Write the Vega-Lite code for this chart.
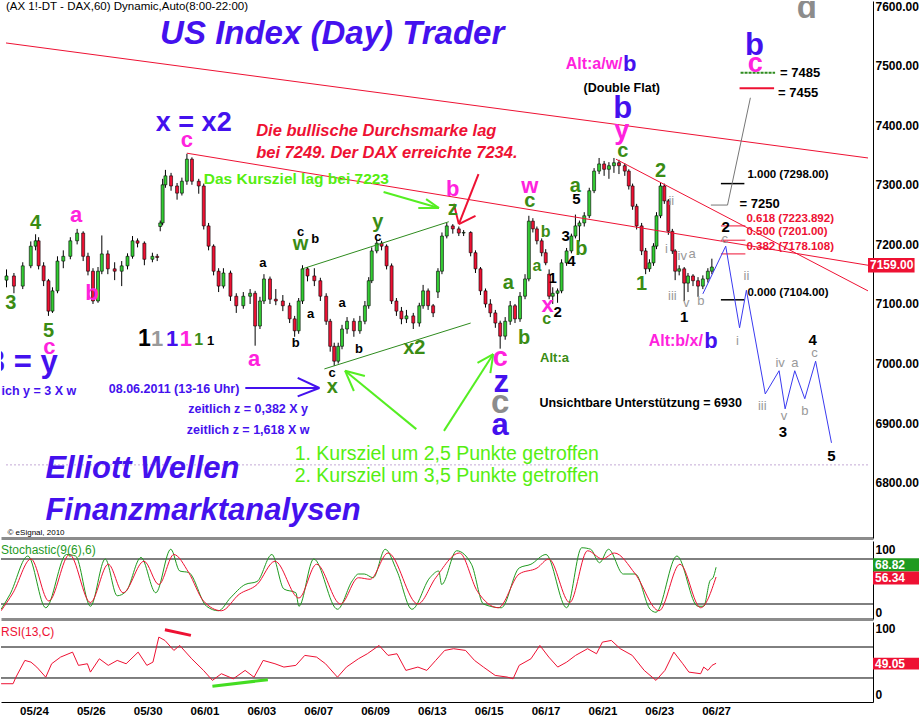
{
"$schema":"https://vega.github.io/schema/vega-lite/v6.json",
"padding":0,
"background":"white",
"spacing":3,
"config":{"view":{"stroke":null},"font":"Liberation Sans","axis":{"labelFont":"Liberation Sans","labelColor":"#000","labelFontWeight":"bold","labelFontSize":12,"grid":false,"ticks":false,"title":null}},
"datasets":{
"candles":[
{"t":-16,"o":7140,"h":7158,"l":7128,"c":7147},{"t":-12.3,"o":7147,"h":7152,"l":7118,"c":7130},{"t":-7.9,"o":7130,"h":7170,"l":7125,"c":7164},{"t":-3.9,"o":7164,"h":7205,"l":7160,"c":7197},{"t":-1.5,"o":7197,"h":7217,"l":7190,"c":7206},{"t":0,"o":7206,"h":7212,"l":7158,"c":7164},{"t":2.5,"o":7164,"h":7170,"l":7130,"c":7139},{"t":4.9,"o":7139,"h":7142,"l":7080,"c":7088},{"t":6.9,"o":7088,"h":7128,"l":7085,"c":7122},{"t":9.4,"o":7122,"h":7180,"l":7118,"c":7172},{"t":12.3,"o":7172,"h":7190,"l":7160,"c":7180},{"t":15.8,"o":7180,"h":7212,"l":7175,"c":7206},{"t":19.2,"o":7206,"h":7226,"l":7200,"c":7219},{"t":22.2,"o":7219,"h":7222,"l":7172,"c":7180},{"t":24.6,"o":7180,"h":7186,"l":7148,"c":7155},{"t":27.1,"o":7155,"h":7160,"l":7100,"c":7105},{"t":29.6,"o":7105,"h":7162,"l":7102,"c":7155},{"t":31.5,"o":7155,"h":7215,"l":7150,"c":7184},{"t":34.5,"o":7184,"h":7190,"l":7150,"c":7159},{"t":37.9,"o":7159,"h":7170,"l":7140,"c":7155},{"t":41.4,"o":7155,"h":7172,"l":7130,"c":7164},{"t":44.3,"o":7164,"h":7185,"l":7158,"c":7180},{"t":46.8,"o":7180,"h":7214,"l":7176,"c":7206},{"t":49.3,"o":7206,"h":7210,"l":7195,"c":7202},{"t":52.7,"o":7202,"h":7205,"l":7165,"c":7175},{"t":56.7,"o":7175,"h":7186,"l":7170,"c":7180},{"t":59.1,"o":7180,"h":7184,"l":7172,"c":7178},{"t":60.6,"o":7230,"h":7240,"l":7222,"c":7236},{"t":61.8,"o":7236,"h":7310,"l":7232,"c":7300},{"t":63.2,"o":7300,"h":7325,"l":7295,"c":7315},{"t":66,"o":7315,"h":7320,"l":7290,"c":7298},{"t":69,"o":7298,"h":7303,"l":7275,"c":7286},{"t":71.4,"o":7286,"h":7312,"l":7282,"c":7306},{"t":73.9,"o":7306,"h":7352,"l":7300,"c":7343},{"t":76.4,"o":7343,"h":7346,"l":7300,"c":7306},{"t":79.8,"o":7306,"h":7310,"l":7285,"c":7298},{"t":82.3,"o":7298,"h":7302,"l":7225,"c":7231},{"t":84.7,"o":7231,"h":7236,"l":7190,"c":7197},{"t":87.2,"o":7197,"h":7200,"l":7148,"c":7155},{"t":89.7,"o":7155,"h":7160,"l":7120,"c":7130},{"t":92.1,"o":7130,"h":7160,"l":7126,"c":7152},{"t":95.6,"o":7152,"h":7156,"l":7105,"c":7113},{"t":98.5,"o":7113,"h":7118,"l":7085,"c":7097},{"t":102,"o":7097,"h":7120,"l":7092,"c":7113},{"t":105.4,"o":7113,"h":7125,"l":7100,"c":7118},{"t":107.9,"o":7118,"h":7122,"l":7030,"c":7063},{"t":110.3,"o":7063,"h":7112,"l":7058,"c":7105},{"t":112.3,"o":7105,"h":7150,"l":7100,"c":7142},{"t":115.3,"o":7142,"h":7146,"l":7100,"c":7108},{"t":118.2,"o":7108,"h":7125,"l":7098,"c":7105},{"t":121.7,"o":7105,"h":7115,"l":7088,"c":7097},{"t":125.1,"o":7097,"h":7102,"l":7068,"c":7075},{"t":127.6,"o":7075,"h":7080,"l":7045,"c":7055},{"t":129.6,"o":7055,"h":7110,"l":7050,"c":7105},{"t":131.5,"o":7105,"h":7165,"l":7100,"c":7159},{"t":134,"o":7159,"h":7162,"l":7138,"c":7147},{"t":137.4,"o":7147,"h":7160,"l":7130,"c":7139},{"t":140.4,"o":7139,"h":7144,"l":7105,"c":7113},{"t":143.3,"o":7113,"h":7118,"l":7065,"c":7071},{"t":145.3,"o":7071,"h":7075,"l":7020,"c":7029},{"t":147.3,"o":7029,"h":7035,"l":6996,"c":7004},{"t":149.3,"o":7004,"h":7035,"l":7000,"c":7029},{"t":151.2,"o":7029,"h":7065,"l":7024,"c":7058},{"t":153.7,"o":7058,"h":7078,"l":7050,"c":7071},{"t":157.1,"o":7071,"h":7076,"l":7045,"c":7055},{"t":160.1,"o":7055,"h":7080,"l":7050,"c":7071},{"t":162.6,"o":7071,"h":7105,"l":7066,"c":7097},{"t":164.5,"o":7097,"h":7145,"l":7092,"c":7139},{"t":166,"o":7139,"h":7195,"l":7135,"c":7189},{"t":168.5,"o":7189,"h":7208,"l":7185,"c":7202},{"t":170.9,"o":7202,"h":7206,"l":7190,"c":7197},{"t":173.4,"o":7197,"h":7200,"l":7158,"c":7164},{"t":175.9,"o":7164,"h":7168,"l":7100,"c":7105},{"t":178.3,"o":7105,"h":7110,"l":7080,"c":7088},{"t":180.8,"o":7088,"h":7095,"l":7066,"c":7075},{"t":183.3,"o":7075,"h":7090,"l":7068,"c":7080},{"t":186.7,"o":7080,"h":7085,"l":7058,"c":7068},{"t":189.7,"o":7068,"h":7102,"l":7062,"c":7097},{"t":191.6,"o":7097,"h":7132,"l":7092,"c":7122},{"t":194.1,"o":7122,"h":7126,"l":7090,"c":7097},{"t":196.6,"o":7097,"h":7100,"l":7078,"c":7085},{"t":199,"o":7120,"h":7160,"l":7110,"c":7155},{"t":201,"o":7155,"h":7220,"l":7150,"c":7214},{"t":203.4,"o":7214,"h":7236,"l":7210,"c":7231},{"t":206.4,"o":7231,"h":7234,"l":7218,"c":7226},{"t":209.4,"o":7226,"h":7230,"l":7214,"c":7219},{"t":211.8,"o":7219,"h":7224,"l":7214,"c":7220},{"t":215.3,"o":7220,"h":7222,"l":7180,"c":7186},{"t":217.7,"o":7186,"h":7190,"l":7152,"c":7159},{"t":220.2,"o":7159,"h":7162,"l":7115,"c":7122},{"t":222.7,"o":7122,"h":7126,"l":7094,"c":7100},{"t":225.1,"o":7100,"h":7108,"l":7078,"c":7085},{"t":227.6,"o":7085,"h":7090,"l":7060,"c":7068},{"t":230,"o":7068,"h":7072,"l":7025,"c":7046},{"t":232.5,"o":7046,"h":7078,"l":7040,"c":7071},{"t":235,"o":7071,"h":7105,"l":7065,"c":7097},{"t":237.4,"o":7097,"h":7100,"l":7068,"c":7075},{"t":239.9,"o":7075,"h":7120,"l":7070,"c":7113},{"t":242.4,"o":7113,"h":7150,"l":7108,"c":7142},{"t":244.3,"o":7142,"h":7248,"l":7138,"c":7239},{"t":246.3,"o":7239,"h":7244,"l":7220,"c":7226},{"t":248.3,"o":7226,"h":7230,"l":7200,"c":7206},{"t":250.7,"o":7206,"h":7210,"l":7180,"c":7186},{"t":252.7,"o":7186,"h":7192,"l":7165,"c":7169},{"t":254.4,"o":7150,"h":7158,"l":7108,"c":7113},{"t":256.2,"o":7113,"h":7128,"l":7100,"c":7118},{"t":258.6,"o":7118,"h":7126,"l":7102,"c":7122},{"t":260.6,"o":7122,"h":7175,"l":7118,"c":7169},{"t":263.1,"o":7169,"h":7194,"l":7164,"c":7189},{"t":265.5,"o":7189,"h":7218,"l":7185,"c":7214},{"t":267.5,"o":7214,"h":7250,"l":7210,"c":7231},{"t":269.5,"o":7231,"h":7240,"l":7205,"c":7236},{"t":271.9,"o":7236,"h":7254,"l":7230,"c":7248},{"t":274.4,"o":7248,"h":7295,"l":7244,"c":7290},{"t":276.8,"o":7290,"h":7328,"l":7286,"c":7323},{"t":279.3,"o":7323,"h":7345,"l":7318,"c":7335},{"t":281.8,"o":7335,"h":7340,"l":7315,"c":7326},{"t":284.2,"o":7326,"h":7338,"l":7310,"c":7332},{"t":286.7,"o":7332,"h":7345,"l":7320,"c":7337},{"t":289.2,"o":7337,"h":7342,"l":7318,"c":7332},{"t":292.1,"o":7332,"h":7336,"l":7315,"c":7323},{"t":294.1,"o":7323,"h":7326,"l":7292,"c":7298},{"t":296,"o":7298,"h":7302,"l":7258,"c":7264},{"t":298,"o":7264,"h":7268,"l":7225,"c":7231},{"t":300.5,"o":7231,"h":7236,"l":7182,"c":7189},{"t":302.5,"o":7189,"h":7194,"l":7150,"c":7159},{"t":304.4,"o":7159,"h":7175,"l":7154,"c":7169},{"t":306.4,"o":7169,"h":7202,"l":7164,"c":7197},{"t":307.9,"o":7197,"h":7254,"l":7192,"c":7248},{"t":309.9,"o":7248,"h":7303,"l":7244,"c":7298},{"t":311.8,"o":7298,"h":7302,"l":7268,"c":7273},{"t":313.8,"o":7273,"h":7276,"l":7216,"c":7222},{"t":315.8,"o":7222,"h":7226,"l":7184,"c":7189},{"t":317.2,"o":7189,"h":7192,"l":7140,"c":7155},{"t":319.2,"o":7155,"h":7165,"l":7148,"c":7159},{"t":321.7,"o":7159,"h":7162,"l":7105,"c":7135},{"t":323.6,"o":7135,"h":7152,"l":7120,"c":7147},{"t":326.1,"o":7147,"h":7150,"l":7130,"c":7139},{"t":328.6,"o":7139,"h":7145,"l":7112,"c":7130},{"t":331,"o":7130,"h":7148,"l":7125,"c":7142},{"t":333.5,"o":7142,"h":7160,"l":7136,"c":7155},{"t":335.5,"o":7155,"h":7176,"l":7150,"c":7162}
],
"seg_dot":[{"t":-16.25,"p":6830,"t2":413.3,"p2":6830}],
"seg_red1":[{"t":-16.25,"p":7538,"t2":413.3,"p2":7345},{"t":73.9,"p":7353,"t2":413.3,"p2":7165},{"t":287.7,"p":7343,"t2":413.3,"p2":7122},{"t":340,"p":7231,"t2":352.2,"p2":7231},{"t":340,"p":7207,"t2":352.2,"p2":7207},{"t":340,"p":7184,"t2":352.2,"p2":7184}],
"seg_red2":[{"t":349.3,"p":7462,"t2":366.5,"p2":7462},{"t":219.2,"p":7318,"t2":209.4,"p2":7234},{"t":209.4,"p":7234,"t2":206.9,"p2":7268},{"t":209.4,"p":7234,"t2":217.7,"p2":7248}],
"seg_chan":[{"t":131.5,"p":7159,"t2":204.4,"p2":7238},{"t":142.4,"p":6991,"t2":215.3,"p2":7068}],
"seg_lime":[{"t":171.9,"p":7288,"t2":199.5,"p2":7261},{"t":199.5,"p":7261,"t2":189.2,"p2":7261},{"t":199.5,"p":7261,"t2":193.1,"p2":7276},{"t":188.2,"p":6890,"t2":152.7,"p2":6988},{"t":152.7,"p":6988,"t2":162.6,"p2":6979},{"t":152.7,"p":6988,"t2":157.1,"p2":6954},{"t":202,"p":6887,"t2":226.6,"p2":7016},{"t":226.6,"p":7016,"t2":218.7,"p2":7001},{"t":226.6,"p":7016,"t2":225.1,"p2":6984}],
"seg_blue":[{"t":103,"p":6959,"t2":139.9,"p2":6959},{"t":139.9,"p":6959,"t2":129.1,"p2":6976},{"t":139.9,"p":6959,"t2":129.1,"p2":6945}],
"seg_black":[{"t":340,"p":7302,"t2":351.7,"p2":7302},{"t":340,"p":7107,"t2":351.7,"p2":7107}],
"seg_gray":[{"t":335,"p":7266,"t2":343.3,"p2":7266},{"t":343.3,"p":7266,"t2":354.7,"p2":7446}],
"seg_g7485":[{"t":349.8,"p":7488,"t2":367,"p2":7488}],
"path_blue":[{"i":1,"t":331,"p":7117},{"i":2,"t":342.4,"p":7197},{"i":3,"t":349.3,"p":7060},{"i":4,"t":352.7,"p":7123},{"i":5,"t":362.1,"p":6949},{"i":6,"t":369,"p":6988},{"i":7,"t":372,"p":6924},{"i":8,"t":376.8,"p":6988},{"i":9,"t":381.8,"p":6941},{"i":10,"t":387.2,"p":7004},{"i":11,"t":395.1,"p":6867}],
"tx_header":[{"t":-16.25,"p":7598,"s":"(AX 1!-DT - DAX,60) Dynamic,Auto(8:00-22:00)"}],
"tx_copy":[{"t":-15.5,"p":6716,"s":"© eSignal, 2010"}],
"tx_title":[{"t":146.3,"p":7553,"s":"US Index (Day) Trader"}],
"tx_brand":[{"t":3.4,"p":6823,"s":"Elliott Wellen"},{"t":3.4,"p":6753,"s":"Finanzmarktanalysen"}],
"tx_red":[{"t":108.4,"p":7390,"s":"Die bullische Durchsmarke lag"},{"t":108.4,"p":7353,"s":"bei 7249. Der DAX erreichte 7234."}],
"tx_green":[{"t":82.3,"p":7310,"s":"Das Kursziel lag bei 7223"}],
"tx_hit":[{"t":127.6,"p":6848,"s":"1. Kursziel um 2,5 Punkte getroffen"},{"t":127.6,"p":6811,"s":"2. Kursziel um 3,5 Punkte getroffen"}],
"tx_blue":[{"t":67.5,"p":6957,"s":"08.06.2011 (13-16 Uhr)"},{"t":104.4,"p":6924,"s":"zeitlich z = 0,382 X y"},{"t":104.4,"p":6888,"s":"zeitlich z = 1,618 X w"},{"t":-5.9,"p":6954,"s":"zeitlich y = 3 X w"}],
"tx_black13":[{"t":300,"p":6934,"s":"Unsichtbare Unterstützung = 6930"},{"t":290.6,"p":7462,"s":"(Double Flat)"}],
"tx_fibk":[{"t":353.2,"p":7316,"s":"1.000 (7298.00)"},{"t":353.2,"p":7118,"s":"0.000 (7104.00)"}],
"tx_fibr":[{"t":352.7,"p":7243,"s":"0.618 (7223.892)"},{"t":352.7,"p":7221,"s":"0.500 (7201.00)"},{"t":352.7,"p":7196,"s":"0.382 (7178.108)"}],
"tx_eq":[{"t":369.5,"p":7488,"s":"= 7485"},{"t":368.5,"p":7454,"s":"= 7455"},{"t":349.3,"p":7268,"s":"= 7250"}],
"tx_mag22":[{"t":73.9,"p":7375,"s":"c"},{"t":18.7,"p":7249,"s":"a"},{"t":26.6,"p":7118,"s":"b"},{"t":5.4,"p":7028,"s":"c"},{"t":107.4,"p":7008,"s":"a"},{"t":206.4,"p":7293,"s":"b"},{"t":244.8,"p":7298,"s":"w"},{"t":253.7,"p":7098,"s":"x"},{"t":73.4,"p":7041,"s":"1"}],
"tx_mag27":[{"t":290.6,"p":7390,"s":"y"},{"t":230,"p":7009,"s":"c"},{"t":357.1,"p":7503,"s":"c"}],
"tx_magAlt":[{"t":276.8,"p":7503,"s":"Alt:a/w/"},{"t":317.5,"p":7038,"s":"Alt:b/x/"}],
"tx_blue30":[{"t":230.5,"p":6967,"s":"z"},{"t":230,"p":6895,"s":"a"},{"t":291.1,"p":7427,"s":"b"},{"t":356.7,"p":7533,"s":"b"},{"t":-7.9,"p":7001,"s":"3 = y"}],
"tx_blue27":[{"t":77.3,"p":7404,"s":"x = x2"}],
"tx_blue21":[{"t":66.5,"p":7041,"s":"1"},{"t":294.6,"p":7503,"s":"b"},{"t":335,"p":7038,"s":"b"}],
"tx_green20":[{"t":-1.5,"p":7236,"s":"4"},{"t":-13.8,"p":7102,"s":"3"},{"t":4.9,"p":7055,"s":"5"},{"t":130.5,"p":7201,"s":"w"},{"t":169,"p":7238,"s":"y"},{"t":206.4,"p":7259,"s":"z"},{"t":146.3,"p":6961,"s":"x"},{"t":187.2,"p":7026,"s":"x2"},{"t":244.8,"p":7273,"s":"c"},{"t":234,"p":7135,"s":"a"},{"t":241.9,"p":7043,"s":"b"},{"t":267.5,"p":7298,"s":"a"},{"t":270.4,"p":7192,"s":"b"},{"t":291.1,"p":7357,"s":"c"},{"t":309.9,"p":7323,"s":"2"},{"t":300.5,"p":7134,"s":"1"}],
"tx_green16":[{"t":248.3,"p":7164,"s":"a"},{"t":252.7,"p":7221,"s":"b"},{"t":253.2,"p":7075,"s":"c"},{"t":79.8,"p":7040,"s":"1"}],
"tx_greenAlt":[{"t":257.1,"p":7009,"s":"Alt:a"}],
"tx_k13":[{"t":111.8,"p":7169,"s":"a"},{"t":130.5,"p":7221,"s":"c"},{"t":137.9,"p":7209,"s":"b"},{"t":135.5,"p":7083,"s":"a"},{"t":151.2,"p":7102,"s":"a"},{"t":128.1,"p":7035,"s":"b"},{"t":159.6,"p":7024,"s":"b"},{"t":146.3,"p":6984,"s":"c"},{"t":169,"p":7212,"s":"c"},{"t":85.7,"p":7038,"s":"1"}],
"tx_k15":[{"t":268,"p":7276,"s":"5"},{"t":262.6,"p":7214,"s":"3"},{"t":265.5,"p":7172,"s":"4"},{"t":256.2,"p":7144,"s":"1"},{"t":258.6,"p":7087,"s":"2"},{"t":321.7,"p":7078,"s":"1"},{"t":342.4,"p":7229,"s":"2"},{"t":385.7,"p":7040,"s":"4"},{"t":370.9,"p":6885,"s":"3"},{"t":395.1,"p":6845,"s":"5"}],
"tx_k23":[{"t":52.7,"p":7041,"s":"1"}],
"tx_gray":[{"t":315.3,"p":7273,"s":"ii"},{"t":312.8,"p":7192,"s":"i"},{"t":320.7,"p":7180,"s":"iv"},{"t":325.6,"p":7184,"s":"a"},{"t":315.8,"p":7113,"s":"iii"},{"t":322.7,"p":7102,"s":"v"},{"t":330,"p":7105,"s":"b"},{"t":341.9,"p":7209,"s":"c"},{"t":348.3,"p":7038,"s":"i"},{"t":352.7,"p":7147,"s":"ii"},{"t":360.6,"p":6929,"s":"iii"},{"t":369.5,"p":7001,"s":"iv"},{"t":371.4,"p":6912,"s":"v"},{"t":376.8,"p":7001,"s":"a"},{"t":381.8,"p":6920,"s":"b"},{"t":386.7,"p":7018,"s":"c"}],
"tx_gray22":[{"t":59.1,"p":7041,"s":"1"}],
"tx_grayBig":[{"t":230,"p":6933,"s":"c"},{"t":382.8,"p":7597,"s":"d"}],
"box_main":[{"t":413.3,"t2":436.5,"p":7153,"p2":7177,"pm":7165,"s":"7159.00"}],
"stoch":[
{"s":"K","t":-16.2,"v":13},{"s":"K","t":-11.8,"v":33},{"s":"K","t":-3,"v":84},{"s":"K","t":5.8,"v":15},{"s":"K","t":16,"v":86},{"s":"K","t":20.5,"v":84},{"s":"K","t":27.8,"v":17},{"s":"K","t":35.1,"v":80},{"s":"K","t":41,"v":31},{"s":"K","t":45.4,"v":37},{"s":"K","t":52.7,"v":82},{"s":"K","t":60,"v":35},{"s":"K","t":67.4,"v":93},{"s":"K","t":71.8,"v":64},{"s":"K","t":76.2,"v":62},{"s":"K","t":85,"v":17},{"s":"K","t":90.9,"v":11},{"s":"K","t":96.7,"v":28},{"s":"K","t":104,"v":46},{"s":"K","t":109.9,"v":50},{"s":"K","t":117.2,"v":86},{"s":"K","t":123.1,"v":40},{"s":"K","t":129,"v":35},{"s":"K","t":130.5,"v":17},{"s":"K","t":137.8,"v":80},{"s":"K","t":149.5,"v":13},{"s":"K","t":156.8,"v":51},{"s":"K","t":159.8,"v":60},{"s":"K","t":162.7,"v":60},{"s":"K","t":167.1,"v":55},{"s":"K","t":173,"v":93},{"s":"K","t":178.8,"v":64},{"s":"K","t":186.2,"v":13},{"s":"K","t":195,"v":55},{"s":"K","t":199.4,"v":64},{"s":"K","t":200.8,"v":46},{"s":"K","t":208.2,"v":91},{"s":"K","t":215.5,"v":73},{"s":"K","t":221.4,"v":20},{"s":"K","t":230.2,"v":15},{"s":"K","t":239,"v":68},{"s":"K","t":244.8,"v":73},{"s":"K","t":252.2,"v":86},{"s":"K","t":262.4,"v":15},{"s":"K","t":269.8,"v":95},{"s":"K","t":274.2,"v":93},{"s":"K","t":278.6,"v":75},{"s":"K","t":283,"v":93},{"s":"K","t":290.3,"v":60},{"s":"K","t":296.2,"v":60},{"s":"K","t":303.5,"v":13},{"s":"K","t":306.4,"v":9},{"s":"K","t":316.7,"v":84},{"s":"K","t":327,"v":17},{"s":"K","t":329.9,"v":17},{"s":"K","t":333,"v":51},{"s":"K","t":334.5,"v":55},{"s":"K","t":336,"v":69},
{"s":"D","t":-16.2,"v":11},{"s":"D","t":-10.3,"v":35},{"s":"D","t":-1.5,"v":80},{"s":"D","t":7.3,"v":24},{"s":"D","t":17.5,"v":86},{"s":"D","t":27.8,"v":22},{"s":"D","t":36.6,"v":73},{"s":"D","t":43.9,"v":35},{"s":"D","t":54.2,"v":77},{"s":"D","t":61.5,"v":46},{"s":"D","t":68.9,"v":86},{"s":"D","t":76.2,"v":62},{"s":"D","t":83.5,"v":24},{"s":"D","t":92.3,"v":11},{"s":"D","t":101.1,"v":33},{"s":"D","t":109.9,"v":46},{"s":"D","t":118.7,"v":77},{"s":"D","t":130.5,"v":28},{"s":"D","t":139.2,"v":73},{"s":"D","t":151,"v":20},{"s":"D","t":159.8,"v":55},{"s":"D","t":165.6,"v":53},{"s":"D","t":174.4,"v":88},{"s":"D","t":189.1,"v":20},{"s":"D","t":197.9,"v":55},{"s":"D","t":209.6,"v":88},{"s":"D","t":218.4,"v":37},{"s":"D","t":228.7,"v":15},{"s":"D","t":239,"v":60},{"s":"D","t":247.8,"v":68},{"s":"D","t":253.6,"v":80},{"s":"D","t":263.9,"v":22},{"s":"D","t":272.7,"v":91},{"s":"D","t":280,"v":80},{"s":"D","t":285.9,"v":88},{"s":"D","t":296.2,"v":60},{"s":"D","t":307.9,"v":11},{"s":"D","t":318.2,"v":73},{"s":"D","t":328.4,"v":15},{"s":"D","t":336,"v":56}
],
"stoch_lv":[{"t":-16.25,"t2":413.3,"v":80},{"t":-16.25,"t2":413.3,"v":20}],
"stoch_lbl":[{"t":-16.25,"v":92,"s":"Stochastic(9(6),6)"}],
"stoch_boxK":[{"t":413.3,"t2":436.5,"v":63.5,"v2":81,"vm":72.5,"s":"68.82"}],
"stoch_boxD":[{"t":413.3,"t2":436.5,"v":46,"v2":63.5,"vm":54.8,"s":"56.34"}],
"rsi":[{"t":-16.2,"v":22.6},{"t":-10.3,"v":22.6},{"t":-8.9,"v":31},{"t":-4.5,"v":52.7},{"t":-1.5,"v":50.5},{"t":1.4,"v":44},{"t":5.8,"v":31},{"t":8.7,"v":48.4},{"t":13.1,"v":57},{"t":19,"v":63.4},{"t":21.9,"v":46.3},{"t":26.3,"v":48.4},{"t":27.8,"v":37.6},{"t":32.2,"v":54.8},{"t":36.6,"v":46.3},{"t":41,"v":52.7},{"t":45.4,"v":48.4},{"t":51.3,"v":63.4},{"t":55.6,"v":46.3},{"t":58.6,"v":50.5},{"t":61.5,"v":82.8},{"t":64.5,"v":78.5},{"t":67.4,"v":70},{"t":68.9,"v":65.6},{"t":71.8,"v":72},{"t":77.7,"v":54.8},{"t":83.5,"v":39.8},{"t":87.9,"v":26.9},{"t":92.3,"v":35.5},{"t":98.2,"v":29},{"t":104,"v":39.8},{"t":108.4,"v":31},{"t":112.9,"v":52.7},{"t":118.7,"v":48.4},{"t":123.1,"v":44.1},{"t":129,"v":46.3},{"t":133.4,"v":59.2},{"t":139.2,"v":57},{"t":143.6,"v":48.4},{"t":149.5,"v":31},{"t":153.9,"v":44.1},{"t":159.8,"v":54.8},{"t":164.2,"v":61.3},{"t":170,"v":72},{"t":174.4,"v":59.2},{"t":178.8,"v":61.3},{"t":183.2,"v":39.8},{"t":189.1,"v":44.1},{"t":193.5,"v":39.8},{"t":197.9,"v":52.7},{"t":202.3,"v":65.6},{"t":206.7,"v":67.8},{"t":212.6,"v":65.6},{"t":217,"v":52.7},{"t":221.4,"v":44.1},{"t":227.2,"v":33.3},{"t":233.1,"v":31.2},{"t":236,"v":29},{"t":239,"v":46.3},{"t":244.8,"v":54.8},{"t":249.2,"v":72},{"t":253.6,"v":57},{"t":258,"v":44.1},{"t":262.4,"v":50.5},{"t":266.8,"v":59.2},{"t":272.7,"v":67.8},{"t":277.1,"v":61.3},{"t":280,"v":76.3},{"t":284.4,"v":78.5},{"t":288.8,"v":67.8},{"t":294.7,"v":59.2},{"t":300.6,"v":39.8},{"t":306.4,"v":26.9},{"t":310.8,"v":39.8},{"t":315.2,"v":63.4},{"t":319.6,"v":48.4},{"t":322.6,"v":37.6},{"t":328.4,"v":35.5},{"t":329.9,"v":44.1},{"t":332,"v":39.8},{"t":334,"v":46.3},{"t":336,"v":49}],
"rsi_lv":[{"t":-16.25,"t2":413.3,"v":70},{"t":-16.25,"t2":413.3,"v":30}],
"rsi_lbl":[{"t":-16.25,"v":90,"s":"RSI(13,C)"}],
"rsi_divR":[{"t":64.5,"t2":77.3,"v":92.3,"v2":85}],
"rsi_divG":[{"t":87.9,"t2":115.2,"v":19.2,"v2":27.8}],
"rsi_box":[{"t":413.3,"t2":436.5,"v":41,"v2":56,"vm":48.5,"s":"49.05"}]
},
"vconcat":[
{
"width":872,"height":537,
"encoding":{"x":{"field":"t","type":"quantitative","scale":{"domain":[-16.25,413.3],"nice":false,"zero":false},"axis":{"title":null,"labels":false,"ticks":false,"grid":false,"domainColor":"#8c8c8c","domainWidth":3}}},
"layer":[
{"data":{"name":"seg_dot"},"mark":{"type":"rule","color":"#c4a9d6","strokeDash":[2,2]},"encoding":{"x2":{"field":"t2"},"y":{"field":"p","type":"quantitative","scale":{"domain":[6707.3,7608.4],"nice":false,"zero":false},"axis":{"orient":"right","title":null,"values":[6800,6900,7000,7100,7200,7300,7400,7500,7600],"format":".2f","ticks":false,"grid":false,"domainColor":"#000","labelPadding":2}},"y2":{"field":"p2"}}},
{"data":{"name":"candles"},"mark":{"type":"rule","color":"#000","clip":true},"encoding":{"y":{"field":"l","type":"quantitative"},"y2":{"field":"h"}}},
{"data":{"name":"candles"},"mark":{"type":"bar","size":3,"stroke":"#000","strokeWidth":0.6,"clip":true},"encoding":{"y":{"field":"o","type":"quantitative"},"y2":{"field":"c"},"color":{"condition":{"test":"datum.c >= datum.o","value":"#33cc33"},"value":"#ee1133"}}},
{"encoding":{"x2":{"field":"t2"},"y":{"field":"p","type":"quantitative"},"y2":{"field":"p2"}},
"layer":[
{"data":{"name":"seg_red1"},"mark":{"type":"rule","color":"#ee1133","strokeWidth":1,"clip":true}},
{"data":{"name":"seg_red2"},"mark":{"type":"rule","color":"#ee1133","strokeWidth":2}},
{"data":{"name":"seg_chan"},"mark":{"type":"rule","color":"#2e8b1e","strokeWidth":1}},
{"data":{"name":"seg_lime"},"mark":{"type":"rule","color":"#55ee22","strokeWidth":2}},
{"data":{"name":"seg_blue"},"mark":{"type":"rule","color":"#4411ee","strokeWidth":2}},
{"data":{"name":"seg_black"},"mark":{"type":"rule","color":"#000","strokeWidth":1.5}},
{"data":{"name":"seg_gray"},"mark":{"type":"rule","color":"#777","strokeWidth":1}},
{"data":{"name":"seg_g7485"},"mark":{"type":"rule","color":"#2e8b1e","strokeWidth":2,"strokeDash":[3,1]}}
]},
{"data":{"name":"path_blue"},"mark":{"type":"line","color":"#3a3af0","strokeWidth":1},"encoding":{"y":{"field":"p","type":"quantitative"},"order":{"field":"i","type":"quantitative"}}},
{"encoding":{"y":{"field":"p","type":"quantitative"},"text":{"field":"s","type":"nominal"}},
"layer":[
{"data":{"name":"tx_header"},"mark":{"type":"text","fontSize":11.5,"align":"left","color":"#000","clip":true}},
{"data":{"name":"tx_copy"},"mark":{"type":"text","fontSize":8,"align":"left","color":"#000","clip":true}},
{"data":{"name":"tx_title"},"mark":{"type":"text","fontSize":33,"fontWeight":"bold","fontStyle":"italic","color":"#4411ee"}},
{"data":{"name":"tx_brand"},"mark":{"type":"text","fontSize":31,"fontWeight":"bold","fontStyle":"italic","align":"left","color":"#4411ee"}},
{"data":{"name":"tx_red"},"mark":{"type":"text","fontSize":16.5,"fontWeight":"bold","fontStyle":"italic","align":"left","color":"#ee1133"}},
{"data":{"name":"tx_green"},"mark":{"type":"text","fontSize":15.5,"fontWeight":"bold","align":"left","color":"#55ee11"}},
{"data":{"name":"tx_hit"},"mark":{"type":"text","fontSize":19.5,"align":"left","color":"#55ee11"}},
{"data":{"name":"tx_blue"},"mark":{"type":"text","fontSize":12.5,"fontWeight":"bold","color":"#4411ee","clip":true}},
{"data":{"name":"tx_black13"},"mark":{"type":"text","fontSize":12.5,"fontWeight":"bold","color":"#000"}},
{"data":{"name":"tx_fibk"},"mark":{"type":"text","fontSize":11.5,"fontWeight":"bold","align":"left","color":"#000"}},
{"data":{"name":"tx_fibr"},"mark":{"type":"text","fontSize":11.5,"fontWeight":"bold","align":"left","color":"#ee1133"}},
{"data":{"name":"tx_eq"},"mark":{"type":"text","fontSize":13,"fontWeight":"bold","align":"left","color":"#000"}},
{"data":{"name":"tx_mag22"},"mark":{"type":"text","fontSize":22,"fontWeight":"bold","color":"#ff22dd"}},
{"data":{"name":"tx_mag27"},"mark":{"type":"text","fontSize":27,"fontWeight":"bold","color":"#ff22dd"}},
{"data":{"name":"tx_magAlt"},"mark":{"type":"text","fontSize":16,"fontWeight":"bold","color":"#ff22dd"}},
{"data":{"name":"tx_blue30"},"mark":{"type":"text","fontSize":31,"fontWeight":"bold","color":"#4411ee","clip":true}},
{"data":{"name":"tx_blue27"},"mark":{"type":"text","fontSize":27,"fontWeight":"bold","color":"#4411ee"}},
{"data":{"name":"tx_blue21"},"mark":{"type":"text","fontSize":22,"fontWeight":"bold","color":"#4411ee"}},
{"data":{"name":"tx_green20"},"mark":{"type":"text","fontSize":20,"fontWeight":"bold","color":"#3a8c14","clip":true}},
{"data":{"name":"tx_green16"},"mark":{"type":"text","fontSize":16,"fontWeight":"bold","color":"#3a8c14"}},
{"data":{"name":"tx_greenAlt"},"mark":{"type":"text","fontSize":13,"fontWeight":"bold","color":"#3a8c14"}},
{"data":{"name":"tx_k13"},"mark":{"type":"text","fontSize":13,"fontWeight":"bold","color":"#000"}},
{"data":{"name":"tx_k15"},"mark":{"type":"text","fontSize":15,"fontWeight":"bold","color":"#000"}},
{"data":{"name":"tx_k23"},"mark":{"type":"text","fontSize":23,"fontWeight":"bold","color":"#000"}},
{"data":{"name":"tx_gray"},"mark":{"type":"text","fontSize":13,"color":"#999999"}},
{"data":{"name":"tx_gray22"},"mark":{"type":"text","fontSize":22,"fontWeight":"bold","color":"#999999"}},
{"data":{"name":"tx_grayBig"},"mark":{"type":"text","fontSize":33,"fontWeight":"bold","color":"#8c8c8c","clip":true}}
]},
{"data":{"name":"box_main"},"mark":{"type":"rect","color":"#ee1133"},"encoding":{"x2":{"field":"t2"},"y":{"field":"p","type":"quantitative"},"y2":{"field":"p2"}}},
{"data":{"name":"box_main"},"mark":{"type":"text","color":"white","fontWeight":"bold","fontSize":12,"align":"left","dx":2},"encoding":{"y":{"field":"pm","type":"quantitative"},"text":{"field":"s","type":"nominal"}}}
]
},
{
"width":872,"height":78,
"encoding":{"x":{"field":"t","type":"quantitative","scale":{"domain":[-16.25,413.3],"nice":false,"zero":false},"axis":{"title":null,"labels":false,"ticks":false,"grid":false,"domainColor":"#8c8c8c","domainWidth":3}}},
"layer":[
{"data":{"name":"stoch_lv"},"mark":{"type":"rule","color":"#000","strokeWidth":1},"encoding":{"x2":{"field":"t2"},"y":{"field":"v","type":"quantitative","scale":{"domain":[0,104],"nice":false,"zero":false},"axis":{"orient":"right","title":null,"values":[0,50,100],"format":"d","ticks":false,"grid":false,"domainColor":"#000","labelPadding":2,"labelFlush":5}}}},
{"data":{"name":"stoch"},"mark":{"type":"line","strokeWidth":1,"clip":true,"interpolate":"monotone"},"encoding":{"y":{"field":"v","type":"quantitative"},"color":{"field":"s","type":"nominal","scale":{"domain":["K","D"],"range":["#1f9a1f","#ee1133"]},"legend":null}}},
{"data":{"name":"stoch_lbl"},"mark":{"type":"text","fontSize":12,"align":"left","color":"#1f9a1f"},"encoding":{"y":{"field":"v","type":"quantitative"},"text":{"field":"s","type":"nominal"}}},
{"data":{"name":"stoch_boxK"},"mark":{"type":"rect","color":"#1f9a1f"},"encoding":{"x2":{"field":"t2"},"y":{"field":"v","type":"quantitative"},"y2":{"field":"v2"}}},
{"data":{"name":"stoch_boxD"},"mark":{"type":"rect","color":"#ee1133"},"encoding":{"x2":{"field":"t2"},"y":{"field":"v","type":"quantitative"},"y2":{"field":"v2"}}},
{"data":{"name":"stoch_boxK"},"mark":{"type":"text","color":"white","fontWeight":"bold","fontSize":12,"align":"left","dx":2},"encoding":{"y":{"field":"vm","type":"quantitative"},"text":{"field":"s","type":"nominal"}}},
{"data":{"name":"stoch_boxD"},"mark":{"type":"text","color":"white","fontWeight":"bold","fontSize":12,"align":"left","dx":2},"encoding":{"y":{"field":"vm","type":"quantitative"},"text":{"field":"s","type":"nominal"}}}
]
},
{
"width":872,"height":80,
"encoding":{"x":{"field":"t","type":"quantitative","scale":{"domain":[-16.25,413.3],"nice":false,"zero":false},"axis":{"title":null,"values":[0,28,56,84,112,140,168,196,224,252,280,308,336],"labelExpr":"['05/24','05/26','05/30','06/01','06/03','06/07','06/09','06/13','06/15','06/17','06/21','06/23','06/27'][round(datum.value/28)]","labelFlush":false,"labelFontSize":11.5,"labelPadding":3,"ticks":false,"grid":false,"domainColor":"#000","domainWidth":1}}},
"layer":[
{"data":{"name":"rsi_lv"},"mark":{"type":"rule","color":"#000","strokeWidth":1},"encoding":{"x2":{"field":"t2"},"y":{"field":"v","type":"quantitative","scale":{"domain":[-1,102.3],"nice":false,"zero":false},"axis":{"orient":"right","title":null,"values":[0,50,100],"format":"d","ticks":false,"grid":false,"domainColor":"#000","labelPadding":2,"labelFlush":5}}}},
{"data":{"name":"rsi"},"mark":{"type":"line","strokeWidth":1,"color":"#ee1133","clip":true},"encoding":{"y":{"field":"v","type":"quantitative"}}},
{"data":{"name":"rsi_divR"},"mark":{"type":"rule","strokeWidth":3,"color":"#ee1133"},"encoding":{"x2":{"field":"t2"},"y":{"field":"v","type":"quantitative"},"y2":{"field":"v2"}}},
{"data":{"name":"rsi_divG"},"mark":{"type":"rule","strokeWidth":3,"color":"#44dd22"},"encoding":{"x2":{"field":"t2"},"y":{"field":"v","type":"quantitative"},"y2":{"field":"v2"}}},
{"data":{"name":"rsi_lbl"},"mark":{"type":"text","fontSize":12,"align":"left","color":"#ee1133"},"encoding":{"y":{"field":"v","type":"quantitative"},"text":{"field":"s","type":"nominal"}}},
{"data":{"name":"rsi_box"},"mark":{"type":"rect","color":"#ee1133"},"encoding":{"x2":{"field":"t2"},"y":{"field":"v","type":"quantitative"},"y2":{"field":"v2"}}},
{"data":{"name":"rsi_box"},"mark":{"type":"text","color":"white","fontWeight":"bold","fontSize":12,"align":"left","dx":2},"encoding":{"y":{"field":"vm","type":"quantitative"},"text":{"field":"s","type":"nominal"}}}
]
}
]
}
